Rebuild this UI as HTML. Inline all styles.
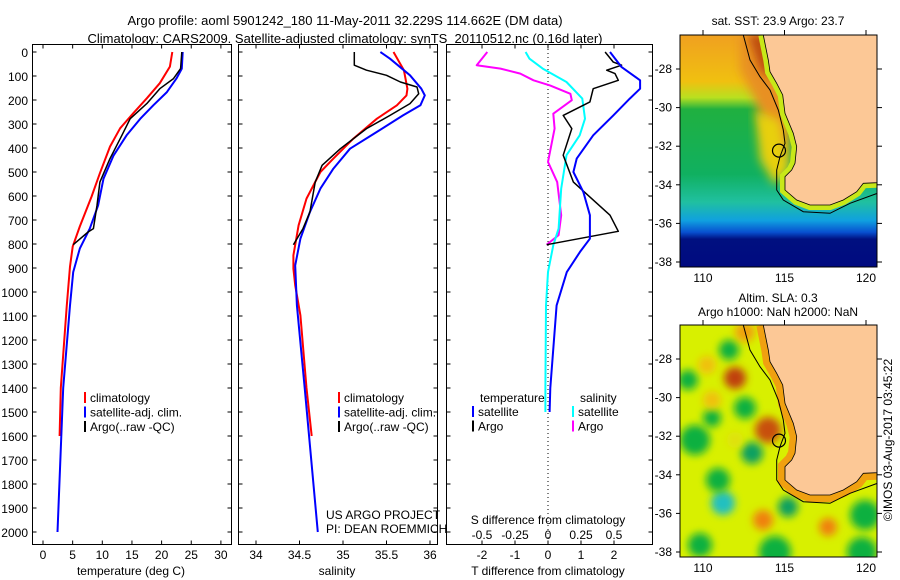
<!DOCTYPE html>
<html><head><meta charset="utf-8"><style>
body{margin:0;background:#fff}
svg{display:block;font-family:"Liberation Sans",sans-serif}
text{fill:#000}
</style></head><body>
<svg id="c" width="900" height="580" viewBox="0 0 900 580" xmlns="http://www.w3.org/2000/svg">
<defs>
<filter id="bl" x="-20%" y="-20%" width="140%" height="140%"><feGaussianBlur stdDeviation="5"/></filter>
<filter id="bl2" x="-50%" y="-50%" width="200%" height="200%"><feGaussianBlur stdDeviation="4"/></filter>
<linearGradient id="sstg" x1="0" y1="0" x2="0" y2="1">
<stop offset="0" stop-color="#f0a020"/><stop offset="0.2" stop-color="#f0c010"/><stop offset="0.27" stop-color="#b8e020"/><stop offset="0.32" stop-color="#20b040"/><stop offset="0.6" stop-color="#10b060"/><stop offset="0.72" stop-color="#20c0a0"/><stop offset="0.8" stop-color="#10a0e0"/><stop offset="0.85" stop-color="#0850d0"/><stop offset="0.88" stop-color="#001080"/><stop offset="1" stop-color="#000a80"/>
</linearGradient>
<clipPath id="m1c"><rect x="680" y="35" width="197" height="232"/></clipPath>
<clipPath id="m2c"><rect x="680" y="325" width="197" height="232"/></clipPath>
</defs>
<text x="345" y="25" text-anchor="middle" font-size="13">Argo profile: aoml 5901242_180 11-May-2011 32.229S 114.662E (DM data)</text>
<text x="345" y="43" text-anchor="middle" font-size="13">Climatology: CARS2009. Satellite-adjusted climatology: synTS_20110512.nc (0.16d later)</text>
<g id="plots"></g>
<g id="maps"></g>
<text transform="translate(892,440) rotate(-90)" text-anchor="middle" font-size="12">©IMOS 03-Aug-2017 03:45:22</text>
</svg>
<script>
const NS="http://www.w3.org/2000/svg";
const svg=document.getElementById('c');
const plots=document.getElementById('plots');
const maps=document.getElementById('maps');
function mk(tag,attrs,parent){const e=document.createElementNS(NS,tag);for(const k in attrs)e.setAttribute(k,attrs[k]);(parent||svg).appendChild(e);return e;}
function txt(x,y,s,size,anchor,parent){const e=mk('text',{x:x,y:y,'font-size':size,'text-anchor':anchor||'start'},parent);e.textContent=s;return e;}

// ---- data ----
const depthTicks=[0,100,200,300,400,500,600,700,800,900,1000,1100,1200,1300,1400,1500,1600,1700,1800,1900,2000];
const tempTicks=[0,5,10,15,20,25,30];
const salTicks=[34,34.5,35,35.5,36];
const tdiffTicks=[-2,-1,0,1,2];
const sdiffTicks=[-0.5,-0.25,0,0.25,0.5];
const sdiffLabels=['-0.5','-0.25','0','0.25','0.5'];

const tClimDepth=[0,61,130,193,256,318,394,505,602,727,811,894,1061,1400,1600];
const tClimVal=[21.8,21.4,19.7,17.5,15.2,13.0,11.3,9.6,8.2,6.2,5.0,4.55,4.0,3.0,2.8];
const tSatDepth=[0,69,111,167,222,278,347,431,528,639,736,819,917,1056,1400,2000];
const tSatVal=[23.55,23.4,22.5,20.9,18.6,16.4,14.1,11.9,10.2,9.3,7.9,6.2,5.1,4.55,3.4,2.45];
const tArgoDepth=[0,69,111,153,215,278,347,444,542,639,736,750,803];
const tArgoVal=[23.4,23.2,22.0,19.7,17.5,14.7,13.3,11.3,9.6,9.1,8.5,7.6,5.1];

const sClimDepth=[0,76,153,181,222,278,361,444,500,611,722,847,903,972,1097,1400,1600];
const sClimVal=[35.58,35.70,35.74,35.73,35.62,35.39,35.12,34.89,34.74,34.58,34.49,34.43,34.43,34.45,34.51,34.58,34.64];
const sSatDepth=[0,28,97,153,181,222,264,333,403,486,569,667,778,889,1056,1400,2000];
const sSatVal=[35.43,35.54,35.77,35.90,35.94,35.89,35.69,35.39,35.08,34.89,34.74,34.62,34.51,34.45,34.47,34.56,34.71];
const sArgoDepth=[0,55,76,97,125,146,174,215,264,319,403,472,542,667,736,803];
const sArgoVal=[35.13,35.13,35.27,35.50,35.66,35.85,35.87,35.77,35.54,35.27,34.97,34.76,34.68,34.62,34.54,34.43];

const dTSatDepth=[0,63,118,153,194,264,347,444,500,583,680,778,833,917,1056,1400,1500];
const dTSatVal=[1.88,2.23,2.79,2.79,2.48,1.98,1.37,0.87,0.77,1.07,1.27,1.27,0.97,0.57,0.26,0.07,0.05];
const dTArgoDepth=[0,42,55,76,90,118,153,208,264,319,430,542,680,747,803];
const dTArgoVal=[1.73,1.98,2.23,1.78,2.03,2.13,1.37,1.27,0.46,0.72,0.46,0.77,1.88,2.13,-0.04];
const dSSatDepth=[0,28,69,125,194,278,347,430,569,736,805,917,1056,1400,1500];
const dSSatVal=[-0.17,-0.14,-0.04,0.14,0.26,0.28,0.24,0.14,0.10,0.08,0.04,0.0,-0.015,-0.02,-0.02];
const dSArgoDepth=[0,55,69,90,118,139,174,201,257,319,458,542,680,763,803];
const dSArgoVal=[-0.46,-0.54,-0.36,-0.21,-0.11,0.015,0.17,0.18,0.04,0.05,0.0,0.07,0.10,0.08,-0.01];

// ---- axes functions ----
const yD=d=>52+d*0.24;
const xT=t=>43+t*5.93;
const xS=s=>256+(s-34)*87;
const xDT=v=>548+v*33;
const xDS=v=>548+v*132;

function line(dep,val,xf,color,name,w){
  let d='';for(let i=0;i<dep.length;i++){d+=(i?'L':'M')+xf(val[i]).toFixed(1)+','+yD(dep[i]).toFixed(1);}
  const p=mk('path',{d:d,fill:'none',stroke:color,'stroke-width':w||2,'stroke-linejoin':'round'},plots);
  
  
}
function panel(x0,x1,name){
  const g=mk('g',{},plots);
  
  
  mk('rect',{x:x0,y:44.5,width:x1-x0,height:500,fill:'#fff',stroke:'#000','stroke-width':1},g);
  depthTicks.forEach(d=>{mk('line',{x1:x0,x2:x0+4,y1:yD(d),y2:yD(d),stroke:'#000'},g);mk('line',{x1:x1-4,x2:x1,y1:yD(d),y2:yD(d),stroke:'#000'},g);});
  return g;
}
const p1=panel(32.5,231.5,'temperature-panel');
const p2=panel(238.5,437.5,'salinity-panel');
const p3=panel(446.5,652.5,'difference-panel');
depthTicks.forEach(d=>{txt(28,yD(d)+5,String(d),12,'end',plots);});
function xticks(g,ticks,labels,xf,y,top){
  ticks.forEach((v,i)=>{const x=xf(v);mk('line',{x1:x,x2:x,y1:544.5,y2:540.5,stroke:'#000'},g);if(top)mk('line',{x1:x,x2:x,y1:44.5,y2:48.5,stroke:'#000'},g);txt(x,y,labels[i],12,'middle',g);});
}
xticks(p1,tempTicks,tempTicks.map(String),xT,559,true);
xticks(p2,salTicks,salTicks.map(String),xS,559,true);
xticks(p3,tdiffTicks,tdiffTicks.map(String),xDT,559,true);
sdiffTicks.forEach((v,i)=>{txt(xDS(v),539,sdiffLabels[i],12,'middle',p3);});
txt(131,575,'temperature (deg C)',12,'middle',p1);
txt(337,575,'salinity',12,'middle',p2);
txt(548,575,'T difference from climatology',12,'middle',p3);
txt(548,524,'S difference from climatology',12,'middle',p3);
mk('line',{x1:548,x2:548,y1:45,y2:544,stroke:'#000','stroke-dasharray':'1,3'},p3);

line(tClimDepth,tClimVal,xT,'#f00','temp-climatology-line');
line(tSatDepth,tSatVal,xT,'#00f','temp-satellite-line');
line(tArgoDepth,tArgoVal,xT,'#000','temp-argo-line',1.5);
line(sClimDepth,sClimVal,xS,'#f00','sal-climatology-line');
line(sSatDepth,sSatVal,xS,'#00f','sal-satellite-line');
line(sArgoDepth,sArgoVal,xS,'#000','sal-argo-line',1.5);
line(dSArgoDepth,dSArgoVal,xDS,'#f0f','sdiff-argo-line');
line(dSSatDepth,dSSatVal,xDS,'#0ff','sdiff-satellite-line');
line(dTArgoDepth,dTArgoVal,xDT,'#000','tdiff-argo-line',1.5);
line(dTSatDepth,dTSatVal,xDT,'#00f','tdiff-satellite-line');

function legend(x,y,entries,name){
  const g=mk('g',{},plots);
  
  
  entries.forEach((e,i)=>{if(e[1])mk('rect',{x:x,y:y+i*14.5-10,width:2,height:11,fill:e[1]},g);txt(x+6,y+i*14.5,e[0],12,'start',g);});
}
legend(84,402,[['climatology','#f00'],['satellite-adj. clim.','#00f'],['Argo(..raw -QC)','#000']],'temp-legend');
legend(338,402,[['climatology','#f00'],['satellite-adj. clim.','#00f'],['Argo(..raw -QC)','#000']],'sal-legend');
txt(480,402,'temperature',12,'start',p3);
txt(580,402,'salinity',12,'start',p3);
legend(472,416,[['satellite','#00f'],['Argo','#000']],'tdiff-legend');
legend(572,416,[['satellite','#0ff'],['Argo','#f0f']],'sdiff-legend');
txt(326,519,'US ARGO PROJECT',12,'start',p2);
txt(326,533,'PI: DEAN ROEMMICH',12,'start',p2);

// ---- maps ----
const mapLonTicks=[110,115,120];
const mapLatTicks=[-28,-30,-32,-34,-36,-38];
const argoLon=114.662, argoLat=-32.229;
const mx=lon=>703+(lon-110)*16.3;
const myOff=lat=>69+(-28-lat)*19.3;
const landZ=[[340,105],[355,180],[360,215],[380,250],[398,285],[405,340],[430,400],[440,440],[435,490],[425,510],[405,530],[405,570],[440,600],[480,615],[540,615],[580,600],[620,575],[640,550],[682,548],[682,105]];
const landPts=landZ.map(p=>(650+p[0]/3).toFixed(1)+','+(p[1]/3).toFixed(1)).join(' ');
const shelfZ=[[280,105],[300,180],[330,230],[360,270],[385,330],[400,390],[405,430],[390,470],[380,510],[380,570],[400,600],[460,635],[540,640],[600,610],[682,580]];
const shelfD=shelfZ.map((p,i)=>(i?'L':'M')+(650+p[0]/3).toFixed(1)+','+(p[1]/3).toFixed(1)).join('');
const coastD=landZ.slice(0,19).map((p,i)=>(i?'L':'M')+(650+p[0]/3).toFixed(1)+','+(p[1]/3).toFixed(1)).join('');

function drawMap(dy,clip,fillFn,name,title){
  const g=mk('g',{},maps);
  
  
  const inner=mk('g',{'clip-path':'url(#'+clip+')'},g);
  const t=mk('g',{transform:'translate(0,'+dy+')'},inner);
  fillFn(t);
  mk('polygon',{points:landPts,fill:'#fcc896',stroke:'#000','stroke-width':0.8},t);
  mk('path',{d:shelfD,fill:'none',stroke:'#000','stroke-width':1},t);
  const c=mk('circle',{cx:mx(argoLon),cy:myOff(argoLat),r:6.5,fill:'none',stroke:'#000','stroke-width':1.2},t);
  
  
  mk('rect',{x:680,y:35+dy,width:197,height:232,fill:'none',stroke:'#000'},g);
  mapLonTicks.forEach(l=>{const x=mx(l);mk('line',{x1:x,x2:x,y1:35+dy,y2:30+dy,stroke:'#000'},g);txt(x,282+dy,String(l),12,'middle',g);});
  mapLatTicks.forEach(l=>{const y=myOff(l)+dy;mk('line',{x1:877,x2:882,y1:y,y2:y,stroke:'#000'},g);mk('line',{x1:680,x2:676,y1:y,y2:y,stroke:'#000'},g);txt(672,y+4,String(l),12,'end',g);});
  title.forEach((s,i)=>txt(778,title.length==1?25+dy:(12+dy+i*14),s,12,'middle',g));
}
drawMap(0,'m1c',t=>{
  mk('rect',{x:680,y:35,width:197,height:232,fill:'url(#sstg)'},t);
  mk('path',{d:'M740,35 L775,35 L792,120 L786,165 L772,150 L755,100 L740,70Z',fill:'#e89020',filter:'url(#bl)'},t);
  mk('path',{d:'M748,35 L768,35 L772,80 L760,70Z',fill:'#c05010',filter:'url(#bl2)'},t);
  mk('path',{d:'M755,110 L780,120 L790,170 L775,185 L760,160Z',fill:'#e8d010',filter:'url(#bl)'},t);
  mk('path',{d:coastD,fill:'none',stroke:'#c8e818','stroke-width':10},t);
},'sst-map',['sat. SST: 23.9 Argo: 23.7']);
drawMap(290,'m2c',t=>{
  mk('rect',{x:680,y:35,width:197,height:232,fill:'#d8f000'},t);
  const blobs=[[729,60,10,'#10b040'],[735,88,11,'#c04010'],[745,118,11,'#10b040'],[768,140,13,'#c85010'],[752,163,11,'#10a060'],[723,213,12,'#20c0c0'],[718,190,12,'#10b040'],[695,150,15,'#10b040'],[688,90,10,'#10b040'],[712,128,9,'#10b040'],[788,217,10,'#10a060'],[763,230,10,'#f08010'],[828,237,9,'#f08010'],[865,225,15,'#10b040'],[862,262,15,'#10b040'],[775,262,16,'#10b040'],[700,255,12,'#10b040'],[707,75,9,'#f0c010'],[712,110,9,'#f0c010'],[745,42,10,'#f0a010'],[735,150,8,'#e0e010']];
  blobs.forEach(b=>mk('circle',{cx:b[0],cy:b[1],r:b[2],fill:b[3],filter:'url(#bl2)'},t));
  mk('path',{d:coastD,fill:'none',stroke:'#f0a010','stroke-width':14},t);
},'sla-map',['Altim. SLA: 0.3','Argo h1000: NaN h2000: NaN']);
</script>
</body></html>
